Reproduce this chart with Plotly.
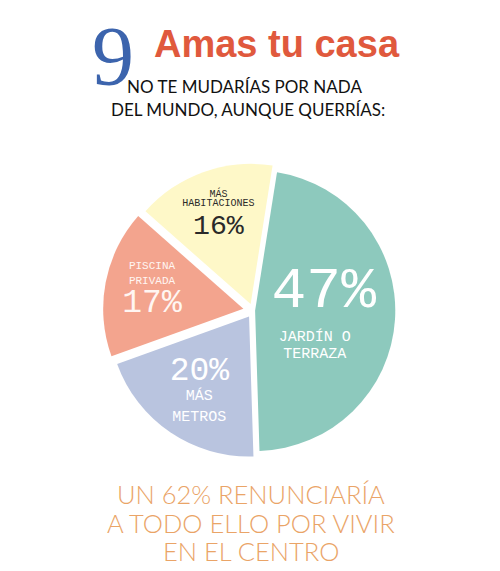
import plotly.graph_objects as go

labels = ["JARDÍN O TERRAZA", "MÁS METROS", "PISCINA PRIVADA", "MÁS HABITACIONES"]
values = [47, 20, 17, 16]
colors = ["#8dc9bd", "#b9c4df", "#f3a48e", "#fef8c8"]
text_colors = ["#ffffff", "#ffffff", "#fff6f2", "#2a2a2a"]
base_sizes = [13, 16, 11, 8]
pct_sizes = [58, 33, 33, 31]

title_num = "9"
title_text = "Amas tu casa"
subtitle_lines = ["NO TE MUDARÍAS POR NADA", "DEL MUNDO, AUNQUE QUERRÍAS:"]
footer_lines = ["UN 62% RENUNCIARÍA", "A TODO ELLO POR VIVIR", "EN EL CENTRO"]

NB = "\u00a0"


def pct(v, s):
    return f"<span style='font-size:{s}px'>{v}%</span>"


def small(t, s):
    return f"<span style='font-size:{s}px'>{t}</span>"


texts = [
    pct(values[0], pct_sizes[0]) + "<br><br>" + small("JARDÍN O" + NB * 2, 15) + "<br>" + small("TERRAZA" + NB * 2, 15),
    pct(values[1], pct_sizes[1]) + "<br>" + small("MÁS", 15) + "<br>" + small("METROS", 15),
    small("PISCINA", 11) + "<br>" + small("PRIVADA", 11) + "<br><br>" + pct(values[2], pct_sizes[2]),
    small("MÁS", 11) + "<br>" + small("HABITACIONES", 11) + "<br><br><br>" + pct(values[3], pct_sizes[3]),
]

fig = go.Figure(go.Pie(
    labels=labels,
    values=values,
    text=texts,
    textinfo="text",
    texttemplate="%{text}",
    textposition="inside",
    insidetextorientation="horizontal",
    insidetextfont=dict(family="Liberation Mono", size=base_sizes, color=text_colors),
    marker=dict(colors=colors, line=dict(color="white", width=0)),
    sort=False,
    direction="clockwise",
    rotation=9,
    pull=[0.015, 0.05, 0.07, 0.05],
    hoverinfo="label+percent",
    showlegend=False,
    domain=dict(x=[0.19, 0.79], y=[0.195, 0.745]),
))

ann = [
    dict(text=title_num, x=0.21, y=1.0, yanchor="top",
         font=dict(family="Liberation Serif", size=84, color="#3c64ad")),
    dict(text=f"<b>{title_text}</b>", x=0.538, y=0.937, yanchor="middle",
         font=dict(family="Liberation Sans", size=38, color="#e0593d")),
]
sub_x = [0.473, 0.479]
for i, line in enumerate(subtitle_lines):
    ann.append(dict(text=line, x=sub_x[i], y=0.862 - i * 0.039, yanchor="middle",
                    font=dict(family="Lato", size=17, color="#111111")))
for i, line in enumerate(footer_lines):
    ann.append(dict(text=line, x=0.486, y=0.148 - i * 0.0495, yanchor="middle",
                    font=dict(family="Lato", size=25.5, color="#eaa467", weight=300)))
for a in ann:
    a.update(xref="paper", yref="paper", showarrow=False, xanchor="center")

fig.update_layout(
    width=500, height=571,
    margin=dict(l=0, r=0, t=0, b=0),
    paper_bgcolor="white",
    plot_bgcolor="white",
    annotations=ann,
)

fig.write_html("out.html")
